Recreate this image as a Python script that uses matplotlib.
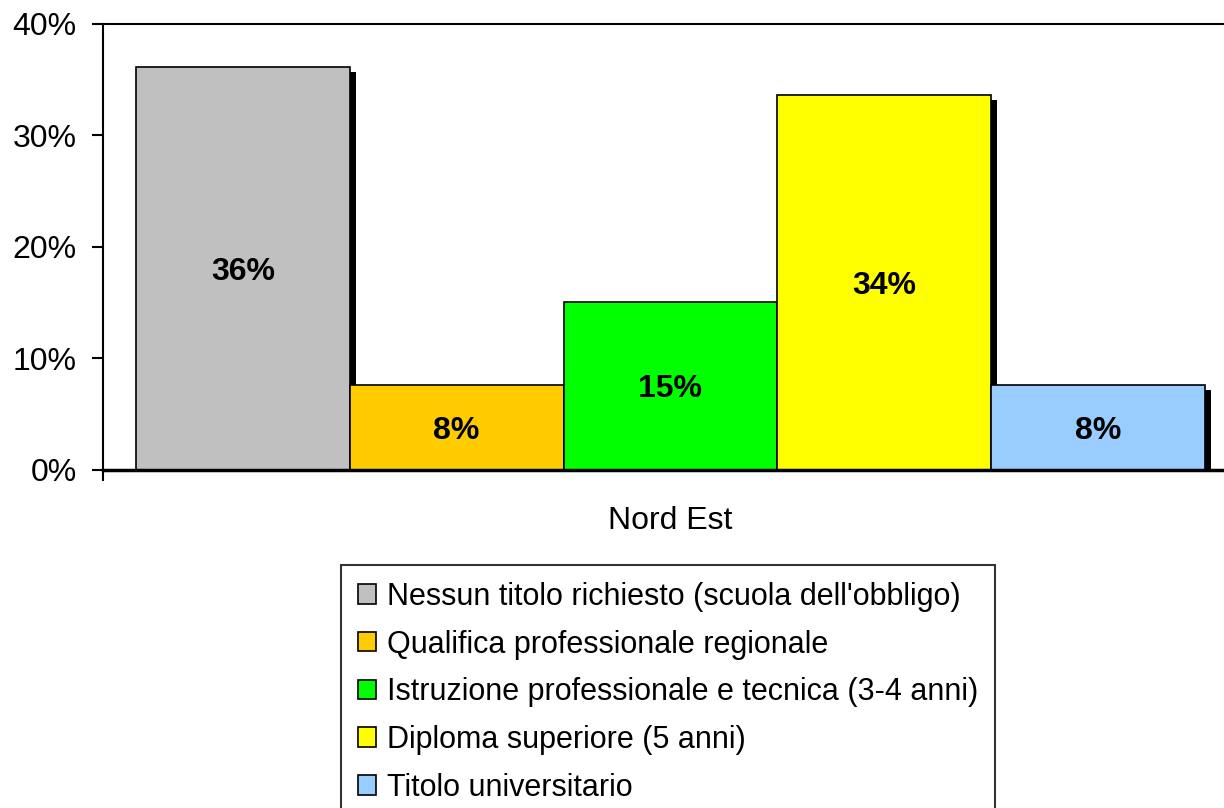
import matplotlib.pyplot as plt
import matplotlib.patheffects as pe
import matplotlib.transforms as mtransforms

plt.rcParams['font.family'] = ['Liberation Sans', 'DejaVu Sans']

# Dati
categorie = ["Nessun titolo richiesto (scuola dell'obbligo)",
             "Qualifica professionale regionale",
             "Istruzione professionale e tecnica (3-4 anni)",
             "Diploma superiore (5 anni)",
             "Titolo universitario"]
valori = [36.1, 7.6, 15.1, 33.6, 7.6]
colori = ['#c0c0c0', '#ffcc00', '#00ff00', '#ffff00', '#99ccff']
gruppo = "Nord Est"

fig = plt.figure(figsize=(12.24, 8.08), dpi=100)
ax = fig.add_axes([103 / 1224, 1 - 470 / 808, 1 - 103 / 1224, (470 - 24) / 808])

pos = list(range(len(valori)))
barre = ax.bar(pos, valori, width=1.0, color=colori, edgecolor='black', linewidth=1.2,
               zorder=3)
for b in barre:
    b.set_path_effects([pe.SimplePatchShadow(offset=(4.5, -3.5), shadow_rgbFace='black', alpha=1.0),
                        pe.Normal()])

# etichette leggermente sotto il centro, come in Excel
sposta = mtransforms.offset_copy(ax.transData, fig=fig, x=0, y=-3, units='dots')
for x, v in zip(pos, valori):
    ax.text(x, v / 2, f"{round(v):.0f}%", ha='center', va='center', transform=sposta,
            fontsize=23, fontweight='bold', zorder=4)

ax.set_xlim(-0.5 - 33 / 214, 4.5 + 19 / 214)
ax.set_ylim(0, 40)
ax.set_yticks([0, 10, 20, 30, 40])
ax.set_yticklabels(["0%", "10%", "20%", "30%", "40%"], fontsize=23)
ax.tick_params(axis='y', direction='out', length=8, width=1.5, pad=11)

ax.set_xticks([2])
ax.set_xticklabels([gruppo], fontsize=23)
ax.tick_params(axis='x', which='major', length=0, pad=26)
ax.set_xticks([-0.5 - 33 / 214], minor=True)
ax.tick_params(axis='x', which='minor', direction='out', length=8, width=1.5)

ax.spines['right'].set_visible(False)
for s in ['left', 'top', 'bottom']:
    ax.spines[s].set_linewidth(1.5)
ax.spines['bottom'].set_linewidth(2.5)
ax.spines['bottom'].set_zorder(5)

handles = [plt.Rectangle((0, 0), 1, 1, facecolor=c, edgecolor='black', linewidth=1.2) for c in colori]
leg = fig.legend(handles, categorie, loc='upper left', bbox_to_anchor=(341 / 1224, 1 - 565 / 808),
                 fontsize=22, frameon=True, fancybox=False, edgecolor='black',
                 handlelength=0.6, handleheight=0.6, handletextpad=0.36,
                 labelspacing=0.58, borderpad=0.55, borderaxespad=0)
leg.get_frame().set_linewidth(1.5)

fig.savefig("out.png", dpi=100)
